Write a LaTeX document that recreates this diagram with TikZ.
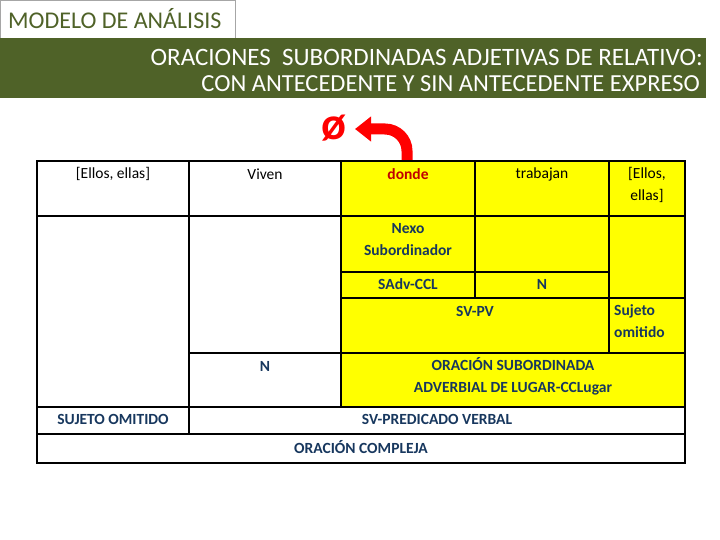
\documentclass[tikz,border=0pt]{standalone}
\usepackage{fontspec}
\setmainfont{Carlito}
\usetikzlibrary{arrows.meta}
\definecolor{olive}{HTML}{4F6228}
\definecolor{ylw}{HTML}{FFFF00}
\definecolor{navy}{HTML}{17375E}
\definecolor{dred}{HTML}{C00000}
\tikzset{
  grid/.style={draw=black, line width=2.2pt},
  ycell/.style={grid, fill=ylw},
  wcell/.style={grid, fill=white},
  lbl/.style={font=\fontsize{15.5}{22}\selectfont, inner sep=0pt, align=center, text=black},
  blbl/.style={lbl, font=\fontsize{15.5}{22}\selectfont\bfseries, text=navy},
}
\begin{document}
\begin{tikzpicture}[x=1pt,y=-1pt]
\useasboundingbox (0,0) rectangle (720,540);
% header
\node[draw=gray!70, line width=0.8pt, fill=white, minimum width=235pt, minimum height=38pt, anchor=north west, inner sep=0pt] (hdr) at (0,0) {};
\node[text=olive, font=\fontsize{24}{24}\selectfont, anchor=west, inner sep=0pt] (hdrtxt) at (8,19) {MODELO DE ANÁLISIS};
\node[fill=olive, minimum width=706pt, minimum height=60pt, anchor=north west, inner sep=0pt] (band) at (0,38) {};
\node[text=white, font=\fontsize{25}{22}\selectfont, anchor=east, align=right, inner sep=0pt] (ttl1) at (703,57) {ORACIONES\ \ SUBORDINADAS ADJETIVAS DE RELATIVO:};
\node[text=white, font=\fontsize{24.5}{22}\selectfont, anchor=east, align=right, inner sep=0pt] (ttl2) at (700,84) {CON ANTECEDENTE Y SIN ANTECEDENTE EXPRESO};
% cells
\path[wcell] (37,161) rectangle (189,407);
\path[wcell] (189,161) rectangle (341,216);
\path[wcell] (189,216) rectangle (341,353);
\path[wcell] (189,353) rectangle (341,407);
\path[ycell] (341,161) rectangle (475,216);
\path[ycell] (475,161) rectangle (609,216);
\path[ycell] (609,161) rectangle (685,216);
\path[ycell] (341,216) rectangle (475,272);
\path[ycell] (475,216) rectangle (609,272);
\path[ycell] (609,216) rectangle (685,298);
\path[ycell] (341,272) rectangle (475,298);
\path[ycell] (475,272) rectangle (609,298);
\path[ycell] (341,298) rectangle (609,353);
\path[ycell] (609,298) rectangle (685,353);
\path[ycell] (341,353) rectangle (685,407);
\path[wcell] (37,161) rectangle (189,216);
\path[wcell] (37,407) rectangle (189,434);
\path[wcell] (189,407) rectangle (685,434);
\path[wcell] (37,434) rectangle (685,463);
% texts
\node[lbl] (t1) at (113,174) {[Ellos, ellas]};
\node[lbl] (t2) at (265,174) {Viven};
\node[lbl, text=dred, font=\fontsize{15.5}{22}\selectfont\bfseries] (donde) at (408,174) {donde};
\node[lbl] (t4) at (542,174) {trabajan};
\node[lbl, anchor=north] (t5) at (647,167) {[Ellos,\\ellas]};
\node[blbl, anchor=north] (t6) at (408,223) {Nexo\\Subordinador};
\node[blbl] (t7) at (408,284) {SAdv-CCL};
\node[blbl] (t8) at (542,284) {N};
\node[blbl] (t9) at (475,311) {SV-PV};
\node[blbl, anchor=north west, align=left] (t10) at (614,304) {Sujeto\\omitido};
\node[blbl] (t11) at (265,366) {N};
\node[blbl, anchor=north] (t12) at (513,357) {ORACIÓN SUBORDINADA\\ADVERBIAL DE LUGAR-CCLugar};
\node[blbl] (t13) at (113,419) {SUJETO OMITIDO};
\node[blbl] (t14) at (437,419) {SV-PREDICADO VERBAL};
\node[blbl] (t15) at (361,447) {ORACIÓN COMPLEJA};
% arrow
\node[text=red, font=\fontsize{46}{46}\selectfont\bfseries, inner sep=0pt] (empty) at (334,128) {ø};
\coordinate (astart) at (407,160);
\coordinate (aend) at (355,129);
\draw[white, line width=14pt, -{Triangle[length=17pt,width=28pt]}] (astart) -- (407,151) arc[start angle=0, end angle=-90, radius=22] -- (aend);
\draw[red, line width=11pt, -{Triangle[length=16pt,width=24pt]}] (astart) -- (407,151) arc[start angle=0, end angle=-90, radius=22] -- (aend);
\end{tikzpicture}
\end{document}
